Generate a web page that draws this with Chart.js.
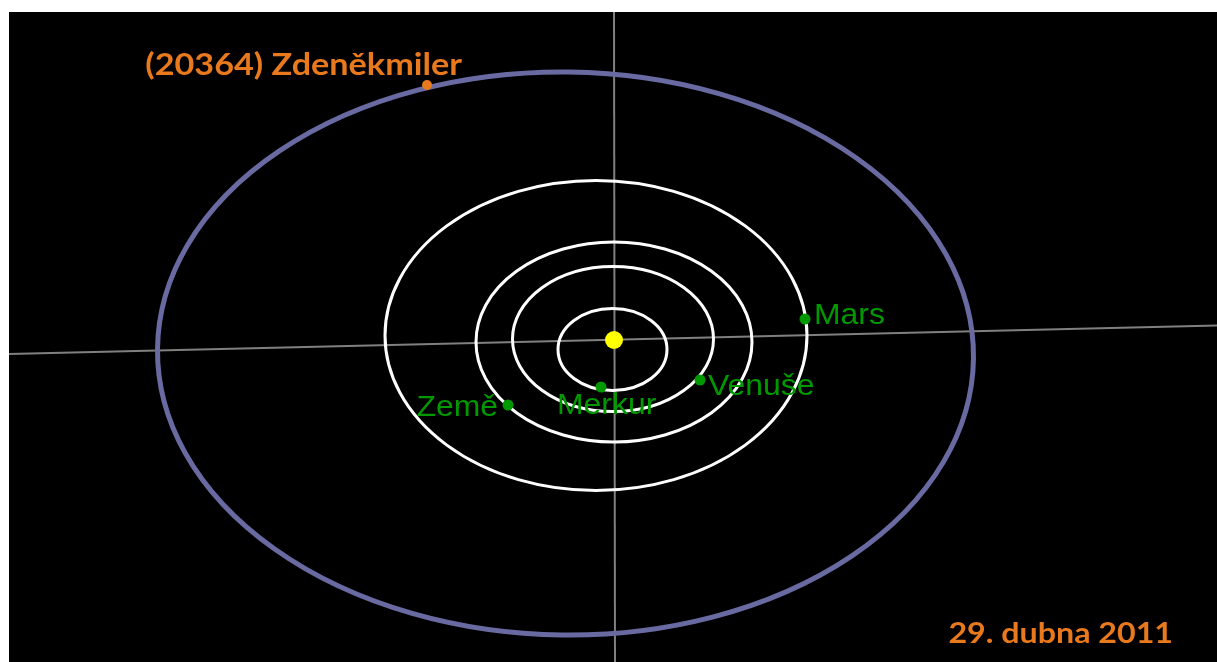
<!DOCTYPE html>
<html>
<head>
<meta charset="utf-8">
<script src="https://cdn.jsdelivr.net/npm/chart.js@4.4.1/dist/chart.umd.min.js"></script>
<style>
  html, body { margin: 0; padding: 0; background: #fff; }
  #wrap { position: absolute; left: 9px; top: 12px; width: 1208px; height: 650px; background: #000; }
</style>
</head>
<body>
<div id="wrap"><canvas id="chart" width="1208" height="650"></canvas></div>
<script>
// souřadnice v pixelech vůči Slunci (y nahoru)
const bodyNames = ['Slunce', 'Merkur', 'Venuše', 'Země', 'Mars', '(20364) Zdeněkmiler'];
const bodyX = [0, -13, 86, -106, 191, -187];
const bodyY = [0, -47, -40, -65, 21, 255];

const orbitCx = [-1.5, -1, 0, -18, -48.5];
const orbitCy = [-9.5, 1, -2, 4.5, -13.5];
const orbitRx = [54.5, 100.5, 138, 211, 408];
const orbitRy = [41, 72.5, 100, 155, 281.5];
const orbitTilt = [0, 0, 0, 0, 0.7];

const eclipticX = [-605, 603];
const eclipticY = [-14, 14.5];
const meridianX = [0, 1];
const meridianY = [328, -322];

const dateLabel = '29. dubna 2011';

const GREEN = '#009900';
const ORANGE = '#e8791d';

function pts(xs, ys) {
  return xs.map((x, i) => ({ x, y: ys[i] }));
}

// popisky: posun od bodu v px
const labelStyle = {
  'Merkur': { dx: -44, dy: 27, align: 'left' },
  'Venuše': { dx: 8, dy: 15, align: 'left' },
  'Země': { dx: -10, dy: 11, align: 'right' },
  'Mars': { dx: 9, dy: 5, align: 'left' },
};

function stretchText(ctx, text, x, y, sx) {
  ctx.save();
  ctx.translate(x, y);
  ctx.scale(sx, 1);
  ctx.fillText(text, 0, 0);
  ctx.restore();
}

const orbitsPlugin = {
  id: 'orbits',
  beforeDatasetsDraw() { this._done = false; },
  beforeDatasetDraw(chart, args) {
    if (this._done || chart.data.datasets[args.index].order !== 0) return;
    this._done = true;
    const { ctx, scales: { x, y } } = chart;
    ctx.save();
    orbitCx.forEach((cx, i) => {
      const px = x.getPixelForValue(cx);
      const py = y.getPixelForValue(orbitCy[i]);
      const rx = x.getPixelForValue(cx + orbitRx[i]) - px;
      const ry = py - y.getPixelForValue(orbitCy[i] + orbitRy[i]);
      const last = i === orbitCx.length - 1;
      ctx.beginPath();
      ctx.ellipse(px, py, rx, ry, orbitTilt[i] * Math.PI / 180, 0, Math.PI * 2);
      ctx.strokeStyle = last ? '#6a6aa2' : '#ffffff';
      ctx.lineWidth = last ? 5 : 3;
      ctx.stroke();
    });
    ctx.restore();
  },
  afterDatasetsDraw(chart) {
    const { ctx, chartArea } = chart;
    ctx.save();
    ctx.textBaseline = 'alphabetic';
    ctx.font = '29px "Liberation Sans", Arial, sans-serif';
    ctx.fillStyle = GREEN;
    chart.getDatasetMeta(1).data.forEach((el, i) => {
      const name = bodyNames[i + 1];
      const s = labelStyle[name];
      ctx.textAlign = s.align;
      stretchText(ctx, name, el.x + s.dx, el.y + s.dy, 1.1);
    });
    const ast = chart.getDatasetMeta(2).data[0];
    ctx.fillStyle = ORANGE;
    ctx.textAlign = 'right';
    ctx.font = 'bold 30px Lato, "Open Sans", sans-serif';
    stretchText(ctx, bodyNames[5], ast.x + 35, ast.y - 10, 1.14);
    ctx.font = 'bold 28px Lato, "Open Sans", sans-serif';
    stretchText(ctx, dateLabel, chartArea.right - 44, chartArea.bottom - 19, 1.15);
    ctx.restore();
  }
};

new Chart(document.getElementById('chart'), {
  type: 'scatter',
  data: {
    datasets: [
      {
        label: bodyNames[0],
        data: pts(bodyX.slice(0, 1), bodyY.slice(0, 1)),
        pointRadius: 9, pointBackgroundColor: '#ffff00', pointBorderWidth: 0, order: 0,
      },
      {
        label: 'planety',
        data: pts(bodyX.slice(1, 5), bodyY.slice(1, 5)),
        pointRadius: 5.5, pointBackgroundColor: GREEN, pointBorderWidth: 0, order: 0,
      },
      {
        label: bodyNames[5],
        data: pts(bodyX.slice(5), bodyY.slice(5)),
        pointRadius: 5, pointBackgroundColor: ORANGE, pointBorderWidth: 0, order: 0,
      },
      {
        label: 'ekliptika',
        data: pts(eclipticX, eclipticY),
        showLine: true, borderColor: '#808080', borderWidth: 2, pointRadius: 0, order: 2,
      },
      {
        label: 'osa',
        data: pts(meridianX, meridianY),
        showLine: true, borderColor: '#808080', borderWidth: 2, pointRadius: 0, order: 2,
      },
    ],
  },
  options: {
    responsive: false,
    devicePixelRatio: 1,
    animation: false,
    layout: { padding: 0, autoPadding: false },
    plugins: { legend: { display: false }, tooltip: { enabled: false } },
    scales: {
      x: { type: 'linear', min: -605, max: 603, display: false },
      y: { type: 'linear', min: -322, max: 328, display: false },
    },
  },
  plugins: [orbitsPlugin],
});
</script>
</body>
</html>
